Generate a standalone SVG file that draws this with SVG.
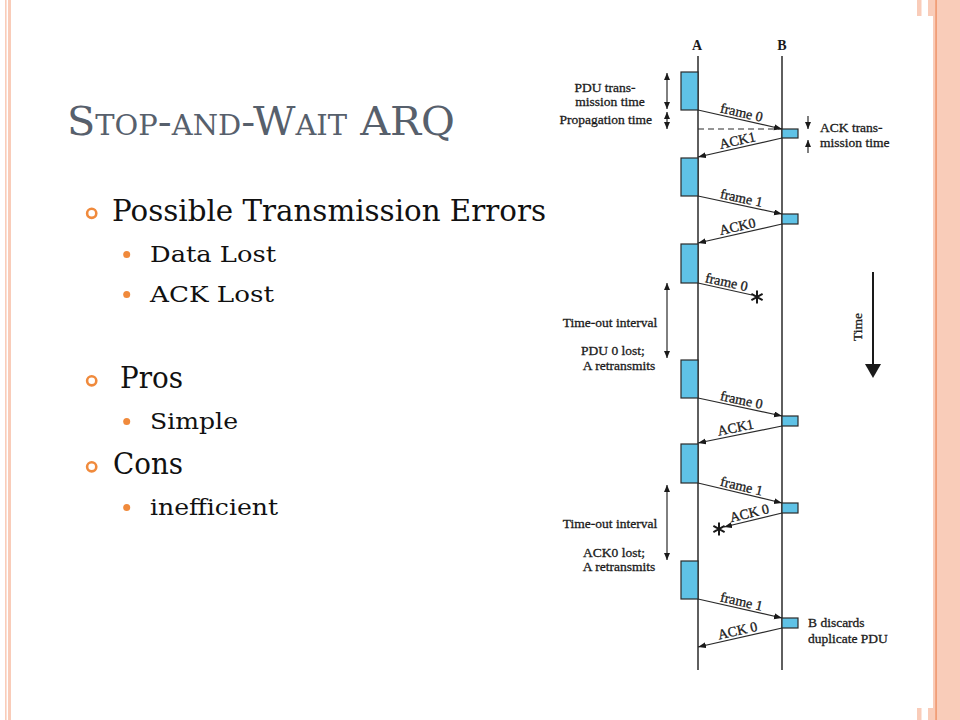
<svg xmlns="http://www.w3.org/2000/svg" width="960" height="720" viewBox="0 0 960 720">
<defs>
<marker id="ah" markerUnits="userSpaceOnUse" markerWidth="9" markerHeight="7" refX="8" refY="3" orient="auto">
<path d="M0,0 L8,3 L0,6 z" fill="#1a1a1a"/>
</marker>
<marker id="ahs" markerUnits="userSpaceOnUse" markerWidth="8" markerHeight="7" refX="7" refY="3" orient="auto-start-reverse">
<path d="M0,0 L7,3 L0,6 z" fill="#1a1a1a"/>
</marker>
</defs>
<style>
.stripe{fill:#f9ccb9}
.title{font-family:"DejaVu Serif","Liberation Serif",serif;font-variant:small-caps;fill:#57606c}
.l1{font-family:"DejaVu Serif","Liberation Serif",serif;font-size:30px;fill:#111}
.l2{font-family:"DejaVu Serif","Liberation Serif",serif;font-size:23px;fill:#111}
.b1{fill:none;stroke:#f08a3c;stroke-width:2.6}
.b2{fill:#f08a3c}
.tl{stroke:#2a2a2a;stroke-width:1.5;fill:none}
.box{fill:#5fc2e6;stroke:#2a2a2a;stroke-width:1.2}
.msg{stroke:#2a2a2a;stroke-width:1.2;fill:none}
.dim{stroke:#2a2a2a;stroke-width:1.2;fill:none}
.t{font-family:"Liberation Serif","Times New Roman",serif;font-size:13.5px;fill:#1a1a1a;stroke:#1a1a1a;stroke-width:0.3}
.ml{font-family:"Liberation Serif","Times New Roman",serif;font-size:14px;fill:#1a1a1a;stroke:#1a1a1a;stroke-width:0.3;text-anchor:middle}
.hd{font-family:"Liberation Serif","Times New Roman",serif;font-size:14px;font-weight:bold;fill:#1a1a1a;text-anchor:middle}
.star{stroke:#1a1a1a;stroke-width:2;fill:none}
</style>
<rect width="960" height="720" fill="#ffffff"/>
<g id="border">
<rect class="stripe" x="5" y="0" width="1.6" height="720"/>
<rect class="stripe" x="8" y="0" width="3" height="720"/>
<rect class="stripe" x="917" y="0" width="4.5" height="720"/>
<rect class="stripe" x="928" y="0" width="5" height="720"/>
<rect x="880" y="16" width="53" height="692" fill="#ffffff"/>
<rect class="stripe" x="933" y="0" width="27" height="720"/>
<rect x="935.2" y="0" width="1.8" height="720" fill="#f19e78"/>
</g>
<g id="title">
<text class="title" x="67" y="135" font-size="40" textLength="388" lengthAdjust="spacingAndGlyphs">Stop-and-Wait ARQ</text>
</g>
<g id="bullets">
<circle class="b1" cx="91.7" cy="213.3" r="4.6"/>
<text class="l1" x="112" y="221" textLength="434" lengthAdjust="spacingAndGlyphs">Possible Transmission Errors</text>
<circle class="b2" cx="126.7" cy="254.5" r="3.5"/>
<text class="l2" x="150" y="262" textLength="126" lengthAdjust="spacingAndGlyphs">Data Lost</text>
<circle class="b2" cx="126.7" cy="294.5" r="3.5"/>
<text class="l2" x="150" y="302" textLength="124" lengthAdjust="spacingAndGlyphs">ACK Lost</text>
<circle class="b1" cx="91.7" cy="380.8" r="4.6"/>
<text class="l1" x="120" y="387.5" textLength="63" lengthAdjust="spacingAndGlyphs">Pros</text>
<circle class="b2" cx="126.7" cy="421.5" r="3.5"/>
<text class="l2" x="150" y="428.5" textLength="88" lengthAdjust="spacingAndGlyphs">Simple</text>
<circle class="b1" cx="91.7" cy="466.8" r="4.6"/>
<text class="l1" x="113" y="474" textLength="70" lengthAdjust="spacingAndGlyphs">Cons</text>
<circle class="b2" cx="126.7" cy="507.5" r="3.5"/>
<text class="l2" x="150" y="515" textLength="128" lengthAdjust="spacingAndGlyphs">inefficient</text>
</g>
<g id="stationA">
<text class="hd" x="697" y="50">A</text>
<line class="tl" x1="698" y1="56" x2="698" y2="670"/>
<rect class="box" x="681" y="72" width="17" height="38"/>
<rect class="box" x="681" y="158" width="17" height="38"/>
<rect class="box" x="681" y="244" width="17" height="39"/>
<rect class="box" x="681" y="360" width="17" height="38"/>
<rect class="box" x="681" y="444" width="17" height="39"/>
<rect class="box" x="681" y="561" width="17" height="38"/>
</g>
<g id="stationB">
<text class="hd" x="782" y="50">B</text>
<line class="tl" x1="782" y1="56" x2="782" y2="670"/>
<rect class="box" x="782" y="129" width="16" height="9"/>
<rect class="box" x="782" y="214" width="16" height="10"/>
<rect class="box" x="782" y="416" width="16" height="10"/>
<rect class="box" x="782" y="503" width="16" height="10"/>
<rect class="box" x="782" y="618" width="16" height="10"/>
</g>
<g id="connectors">
<line class="msg" x1="698" y1="129" x2="782" y2="129" stroke-dasharray="6,4"/>
<line class="msg" x1="698" y1="110" x2="782" y2="129" marker-end="url(#ah)"/>
<line class="msg" x1="782" y1="138" x2="698" y2="157" marker-end="url(#ah)"/>
<line class="msg" x1="698" y1="196" x2="782" y2="214" marker-end="url(#ah)"/>
<line class="msg" x1="782" y1="224" x2="698" y2="243" marker-end="url(#ah)"/>
<line class="msg" x1="698" y1="283" x2="752" y2="295"/>
<line class="msg" x1="698" y1="398" x2="782" y2="416" marker-end="url(#ah)"/>
<line class="msg" x1="782" y1="426" x2="698" y2="443" marker-end="url(#ah)"/>
<line class="msg" x1="698" y1="483" x2="782" y2="503" marker-end="url(#ah)"/>
<line class="msg" x1="782" y1="513" x2="724" y2="527" marker-end="url(#ah)"/>
<line class="msg" x1="698" y1="599" x2="782" y2="618" marker-end="url(#ah)"/>
<line class="msg" x1="782" y1="628" x2="698" y2="647" marker-end="url(#ah)"/>
<line class="dim" x1="667" y1="73" x2="667" y2="109" marker-start="url(#ahs)" marker-end="url(#ahs)"/>
<line class="dim" x1="667" y1="112" x2="667" y2="129" marker-start="url(#ahs)" marker-end="url(#ahs)"/>
<line class="dim" x1="808" y1="116" x2="808" y2="129" marker-end="url(#ahs)"/>
<line class="dim" x1="808" y1="153" x2="808" y2="140" marker-end="url(#ahs)"/>
<line class="dim" x1="667" y1="283" x2="667" y2="358" marker-start="url(#ahs)" marker-end="url(#ahs)"/>
<line class="dim" x1="667" y1="485" x2="667" y2="560" marker-start="url(#ahs)" marker-end="url(#ahs)"/>
<line x1="873" y1="272" x2="873" y2="366" stroke="#1a1a1a" stroke-width="2"/>
<polygon points="865,364 881,364 873,378" fill="#1a1a1a"/>
</g>
<g id="lost1">
<path class="star" d="M757,290.5 V303.5 M751.4,293.8 L762.6,300.2 M751.4,300.2 L762.6,293.8"/>
</g>
<g id="lost2">
<path class="star" d="M719,522.5 V535.5 M713.4,525.8 L724.6,532.2 M713.4,532.2 L724.6,525.8"/>
</g>
<g id="msglabels">
<text class="ml" transform="translate(740,119.5) rotate(12.7)" y="-2.5">frame 0</text>
<text class="ml" transform="translate(739,147.5) rotate(-12.7)" y="-2.5">ACK1</text>
<text class="ml" transform="translate(740,205) rotate(12.1)" y="-2.5">frame 1</text>
<text class="ml" transform="translate(739,233.5) rotate(-12.7)" y="-2.5">ACK0</text>
<text class="ml" transform="translate(725,289) rotate(12.5)" y="-2.5">frame 0</text>
<text class="ml" transform="translate(740,407) rotate(12.1)" y="-2.5">frame 0</text>
<text class="ml" transform="translate(737,434.5) rotate(-11.5)" y="-2.5">ACK1</text>
<text class="ml" transform="translate(740,493) rotate(13.4)" y="-2.5">frame 1</text>
<text class="ml" transform="translate(751,520) rotate(-13.6)" y="-2.5">ACK 0</text>
<text class="ml" transform="translate(740,608.5) rotate(12.7)" y="-2.5">frame 1</text>
<text class="ml" transform="translate(739,637.5) rotate(-12.7)" y="-2.5">ACK 0</text>
</g>
<g id="annotations">
<text class="t" x="605" y="92" text-anchor="middle">PDU trans-</text>
<text class="t" x="610" y="105.5" text-anchor="middle">mission time</text>
<text class="t" x="652" y="123.5" text-anchor="end">Propagation time</text>
<text class="t" x="820" y="132">ACK trans-</text>
<text class="t" x="820" y="147">mission time</text>
<text class="t" x="610" y="327" text-anchor="middle">Time-out interval</text>
<text class="t" x="613" y="355" text-anchor="middle">PDU 0 lost;</text>
<text class="t" x="619" y="370" text-anchor="middle">A retransmits</text>
<text class="t" x="610" y="528" text-anchor="middle">Time-out interval</text>
<text class="t" x="614" y="557" text-anchor="middle">ACK0 lost;</text>
<text class="t" x="619" y="571" text-anchor="middle">A retransmits</text>
<text class="t" x="808" y="627">B discards</text>
<text class="t" x="808" y="643">duplicate PDU</text>
<text class="t" transform="translate(862,327) rotate(-90)" text-anchor="middle" font-size="15">Time</text>
</g>
</svg>
